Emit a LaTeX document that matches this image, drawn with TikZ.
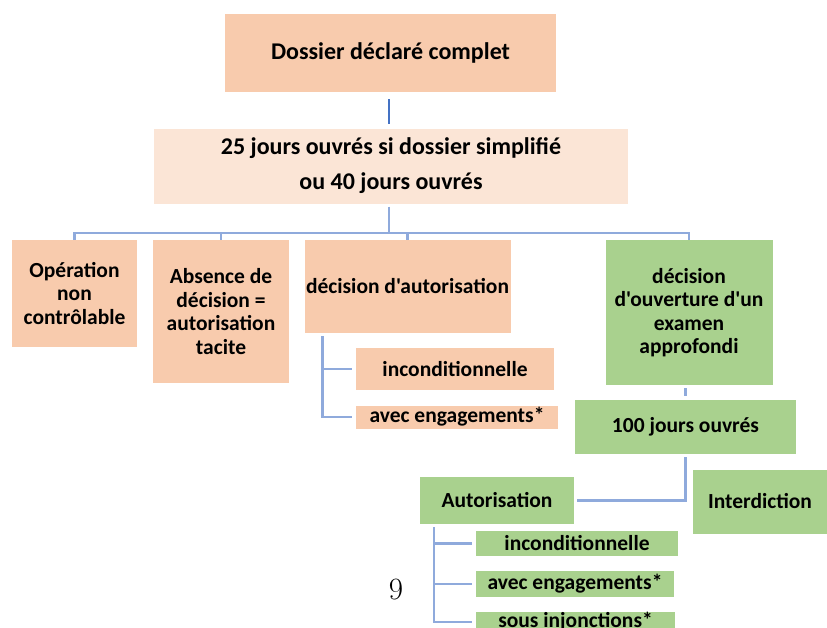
\documentclass[tikz,border=0pt]{standalone}
\usepackage{fontspec}
\newfontfamily\calib{Carlito}

\definecolor{peach}{HTML}{F8CBAD}
\definecolor{palepeach}{HTML}{FBE5D6}
\definecolor{leaf}{HTML}{A9D18E}
\definecolor{wire}{HTML}{8FAADC}
\definecolor{darkwire}{HTML}{4472C4}

\tikzset{
  box/.style={fill=peach, inner sep=0pt, align=center,
    font=\calib\bfseries\fontsize{21.5}{23.5}\selectfont},
  bigbox/.style={box, font=\calib\bfseries\fontsize{24}{26}\selectfont},
  greenbox/.style={box, fill=leaf},
  link/.style={draw=wire, line width=2.5pt},
}

\begin{document}
\begin{tikzpicture}[x=1pt,y=-1pt]
\clip (0,0) rectangle (827,627);
\fill[white] (0,0) rectangle (827,627);

\node[bigbox, minimum width=331pt, minimum height=78pt] (top) at (390.5,53) {Dossier déclaré complet};
\node[bigbox, fill=palepeach, minimum width=474pt, minimum height=75pt] (mid) at (391,166)
  {25 jours ouvrés si dossier simplifié\\[9pt]ou 40 jours ouvrés};

\node[box, minimum width=125pt, minimum height=107pt] (op) at (74.5,293.5) {Opération\\non\\contrôlable};
\node[box, minimum width=136pt, minimum height=143pt] (abs) at (221,311.5) {Absence de\\décision =\\autorisation\\tacite};
\node[box, minimum width=206pt, minimum height=93pt] (dec) at (407.5,286.5) {décision d'autorisation};
\node[greenbox, minimum width=167pt, minimum height=145pt] (exa) at (689,312.5)
  {décision\\d'ouverture d'un\\examen\\approfondi};

\node[box, minimum width=198pt, minimum height=42pt] (inc1) at (455,369) {inconditionnelle};
\node[box, minimum width=202pt, minimum height=23pt] (eng1) at (457,417) {avec engagements*};

\node[greenbox, minimum width=221pt, minimum height=54pt] (cent) at (685.5,427) {100 jours ouvrés};
\node[greenbox, minimum width=154pt, minimum height=47pt] (aut) at (497,500.5) {Autorisation};
\node[greenbox, minimum width=134pt, minimum height=64pt] (itd) at (760,501.5) {Interdiction};

\node[greenbox, minimum width=202pt, minimum height=25pt] (inc2) at (577,543.5) {inconditionnelle};
\node[greenbox, minimum width=198pt, minimum height=26pt] (eng2) at (575,584) {avec engagements*};
\node[greenbox, minimum width=199pt, minimum height=20pt] (inj) at (575.5,622) {sous injonctions*};

\node[font=\rmfamily\fontsize{31}{31}\selectfont] (page) at (396,589) {9};

\coordinate (bus) at (389,233);
\draw[draw=darkwire, line width=2.5pt, shorten <=7pt, shorten >=4pt] (top.south -| bus) -- (mid.north -| bus);
\draw[link, shorten <=3pt] (mid.south -| bus) -- (bus);
\draw[link] (op.north) |- (bus) -| (exa.north);
\draw[link] (abs.north) -- (abs.north |- bus);
\draw[link] (dec.north) -- (dec.north |- bus);

\draw[link, shorten >=4pt] ([xshift=18pt,yshift=-3pt]dec.south west) |- (inc1.west);
\draw[link, shorten >=4pt] ([xshift=18pt,yshift=-3pt]dec.south west) |- (eng1.west);

\draw[link, shorten <=4pt, shorten >=3pt] (cent.north) -- (cent.north |- exa.south);
\draw[link, shorten <=3pt, shorten >=3pt] (cent.south) |- (aut.east);

\draw[link, shorten >=4pt] ([xshift=14pt,yshift=-3pt]aut.south west) |- (inc2.west);
\draw[link, shorten >=4pt] ([xshift=14pt,yshift=-3pt]aut.south west) |- (eng2.west);
\draw[link, shorten >=4pt] ([xshift=14pt,yshift=-3pt]aut.south west) |- (inj.west);
\end{tikzpicture}
\end{document}
